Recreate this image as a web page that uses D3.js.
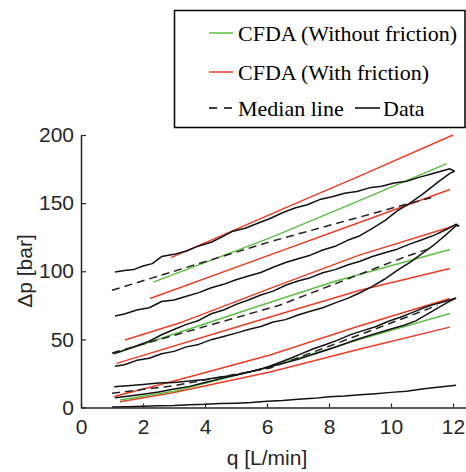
<!DOCTYPE html>
<html>
<head>
<meta charset="utf-8">
<script src="https://cdn.jsdelivr.net/npm/d3@7"></script>
<style>
body{margin:0;background:#fff;}
svg{display:block;}
</style>
</head>
<body>
<script>
// tick values
var xTicks=[0,2,4,6,8,10,12];
var yTicks=[0,50,100,150,200];

// measured data (q [L/min], dp [bar]), each loop as two branches
var dataHighUp=[[1.1,99.5],[1.4,100.5],[1.7,101.2],[2.0,103.8],[2.3,105.6],[2.6,110.8],[3.0,112.4],[3.4,114.9],[3.8,118.6],[4.2,121.3],[4.6,125.8],[4.9,129.4],[5.3,131.6],[5.7,135.2],[6.1,138.7],[6.5,142.9],[6.9,146.4],[7.3,148.8],[7.7,152.6],[8.1,154.7],[8.5,157.3],[8.9,158.6],[9.3,161.2],[9.7,162.4],[10.1,164.8],[10.5,166.1],[10.9,168.9],[11.3,171.4],[11.7,173.9],[11.9,175.2],[12.05,173.4]];
var dataHighDown=[[1.1,67.2],[1.4,68.6],[1.8,71.5],[2.2,73.2],[2.6,77.8],[3.0,78.9],[3.4,81.6],[3.8,84.3],[4.2,87.9],[4.6,90.4],[5.0,93.8],[5.4,96.5],[5.8,99.1],[6.2,102.9],[6.6,106.4],[7.0,109.2],[7.4,111.8],[7.8,115.6],[8.2,118.3],[8.6,122.7],[9.0,126.1],[9.4,131.4],[9.8,137.2],[10.2,144.3],[10.6,149.8],[11.0,156.2],[11.3,161.6],[11.6,166.9],[11.9,171.8],[12.05,173.4]];
var dataMidUp=[[1.05,39.5],[1.4,42.1],[1.8,45.3],[2.2,48.6],[2.6,53.4],[3.0,57.2],[3.4,61.0],[3.8,63.9],[4.2,68.8],[4.6,71.6],[5.0,75.7],[5.4,78.9],[5.8,82.6],[6.2,85.4],[6.6,89.7],[7.0,92.9],[7.4,95.3],[7.8,98.9],[8.2,101.2],[8.6,104.6],[9.0,107.3],[9.4,110.8],[9.8,113.6],[10.2,116.2],[10.6,119.9],[11.0,123.1],[11.4,126.5],[11.8,130.8],[12.1,134.6],[12.2,133.2]];
var dataMidDown=[[1.1,30.2],[1.4,31.4],[1.8,34.6],[2.2,36.1],[2.6,39.4],[3.0,41.2],[3.4,44.5],[3.8,46.3],[4.2,49.8],[4.6,52.1],[5.0,54.6],[5.4,57.3],[5.8,59.4],[6.2,62.8],[6.6,64.5],[7.0,67.9],[7.4,70.6],[7.8,73.2],[8.2,76.8],[8.6,80.1],[9.0,84.2],[9.4,88.9],[9.8,94.3],[10.2,100.6],[10.6,106.4],[11.0,112.9],[11.4,119.6],[11.8,127.3],[12.1,133.5],[12.2,133.2]];
var dataLowUp=[[1.07,15.3],[1.5,15.9],[2.0,16.8],[2.5,17.9],[3.0,18.3],[3.5,19.4],[4.0,20.6],[4.5,22.3],[5.0,23.8],[5.45,26.2],[5.9,28.9],[6.3,32.1],[6.7,35.6],[7.1,39.4],[7.5,43.1],[7.9,46.2],[8.3,49.6],[8.7,53.5],[9.1,56.4],[9.5,59.3],[9.9,63.1],[10.3,66.2],[10.7,69.8],[11.1,73.6],[11.5,76.4],[11.9,78.9],[12.1,80.3]];
var dataLowDown=[[1.1,7.1],[1.5,8.2],[2.0,9.8],[2.5,11.4],[3.0,13.6],[3.5,15.5],[4.0,18.3],[4.5,21.2],[5.0,23.9],[5.5,26.4],[6.0,29.3],[6.5,32.2],[7.0,35.4],[7.5,39.1],[8.0,42.8],[8.4,45.9],[8.8,49.2],[9.2,52.1],[9.6,54.8],[10.0,57.6],[10.4,60.2],[10.8,63.6],[11.2,68.9],[11.6,74.2],[11.9,78.1],[12.1,80.3]];
var dataZero=[[1.0,0.3],[1.5,0.6],[2.0,0.9],[2.5,1.3],[3.0,1.5],[3.5,2.1],[4.0,2.3],[4.5,2.9],[5.0,3.2],[5.5,3.7],[6.0,4.6],[6.5,5.1],[7.0,6.1],[7.5,6.7],[8.0,7.9],[8.5,8.4],[9.0,9.3],[9.5,10.1],[10.0,11.1],[10.5,11.9],[11.0,13.6],[11.5,14.8],[12.1,16.3]];

// CFDA model lines
var greenHigh=[[2.33,92],[6.1,124.5],[9,152],[11.8,179]];
var greenMid=[[1.15,40],[6.4,79.5],[8.25,93],[11.9,116]];
var greenLow=[[1.26,5.5],[3,12],[6.1,30],[9,50],[11.9,69]];
var redHighA=[[2.9,110],[6.74,148],[9,170],[12,200]];
var redHighB=[[2.23,80],[6.1,112],[9,136],[11.9,160]];
var redMidA=[[1.42,49.5],[3.3,63],[6.4,90],[9,112],[12,133]];
var redMidB=[[1.15,32.4],[5.45,62],[6.4,68.5],[9,86],[11.9,102]];
var redLowA=[[1.07,8],[3,19.5],[6.1,38.5],[9,60],[11.9,80]];
var redLowB=[[1.26,4.3],[3,11],[6.1,26],[9,43],[11.9,59]];
var medianHigh=[[1,86],[6.1,121.7],[10.4,148.6],[11.3,154]];
var medianMid=[[1,40],[6.4,75],[10.5,111],[11.3,117]];
var medianLow=[[1,10.5],[3,16],[6.1,29],[8,45],[10,62],[11.5,75]];

var legendLabels=['CFDA (Without friction)','CFDA (With friction)','Median line','Data'];

var width=466,height=472;
var axisColor='#262626';
var green='#5dbf45', red='#ec3b26';

var svg=d3.select('body').append('svg')
.attr('width',width)
.attr('height',height);

var x=d3.scaleLinear().domain([0,12.5]).range([81,468.5]);
var y=d3.scaleLinear().domain([0,200]).range([407.5,135]);

var line=d3.line()
.x(d=>x(d[0]))
.y(d=>y(d[1]));

var plot=svg.append('g');

function draw(data,color,dash){
    plot.append('path')
    .datum(data)
    .attr('d',line)
    .attr('fill','none')
    .attr('stroke',color)
    .attr('stroke-width',1.5)
    .attr('stroke-linejoin','round')
    .attr('stroke-dasharray',dash||null);
}

[redHighA,redHighB,redMidA,redMidB,redLowA,redLowB].forEach(d=>draw(d,red));
[greenHigh,greenMid,greenLow].forEach(d=>draw(d,green));
[dataHighUp,dataHighDown,dataMidUp,dataMidDown,dataLowUp,dataLowDown,dataZero].forEach(d=>draw(d,'#111'));
[medianHigh,medianMid,medianLow].forEach(d=>draw(d,'#222','8,5'));

var xAxis=d3.axisBottom(x)
.tickValues(xTicks)
.tickSizeInner(-4)
.tickSizeOuter(0)
.tickPadding(12);

var yAxis=d3.axisLeft(y)
.tickValues(yTicks)
.tickSizeInner(-5)
.tickSizeOuter(0)
.tickPadding(7);

var gx=svg.append('g')
.attr('transform','translate(0,407.5)')
.call(xAxis);

var gy=svg.append('g')
.attr('transform','translate(81,0)')
.call(yAxis);

[gx,gy].forEach(g=>{
    g.select('.domain').attr('stroke',axisColor).attr('stroke-width',1.5);
    g.selectAll('.tick line').attr('stroke',axisColor).attr('stroke-width',1.2);
    g.selectAll('.tick text')
    .attr('fill',axisColor)
    .style('font-family','"Liberation Sans",Arial,sans-serif')
    .style('font-size','21px');
});

svg.append('text')
.attr('x',267)
.attr('y',465)
.attr('text-anchor','middle')
.attr('fill',axisColor)
.style('font-family','"Liberation Sans",Arial,sans-serif')
.style('font-size','21px')
.text('q [L/min]');

svg.append('text')
.attr('transform','translate(32,271) rotate(-90)')
.attr('text-anchor','middle')
.attr('fill',axisColor)
.style('font-family','"Liberation Sans",Arial,sans-serif')
.style('font-size','21px')
.text('Δp [bar]');

// legend
var legend=svg.append('g');
legend.append('rect')
.attr('x',174.5)
.attr('y',10.5)
.attr('width',290.5)
.attr('height',117)
.attr('fill','#fff')
.attr('stroke','#000')
.attr('stroke-width',1.5);

var legendFont='"Liberation Serif","Times New Roman",serif';
var items=[
    {x1:209,x2:233,y:33,color:green,dash:null,tx:238,label:legendLabels[0]},
    {x1:209,x2:233,y:72,color:red,dash:null,tx:238,label:legendLabels[1]},
    {x1:209,x2:233,y:108,color:'#000',dash:'8,7',tx:238,label:legendLabels[2]},
    {x1:355,x2:380,y:108,color:'#000',dash:null,tx:383,label:legendLabels[3]}
];
items.forEach(it=>{
    legend.append('line')
    .attr('x1',it.x1).attr('x2',it.x2)
    .attr('y1',it.y).attr('y2',it.y)
    .attr('stroke',it.color)
    .attr('stroke-width',1.5)
    .attr('stroke-dasharray',it.dash);
    legend.append('text')
    .attr('x',it.tx)
    .attr('y',it.y+8)
    .style('font-family',legendFont)
    .style('font-size','22px')
    .attr('fill','#000')
    .text(it.label);
});
</script>
</body>
</html>
